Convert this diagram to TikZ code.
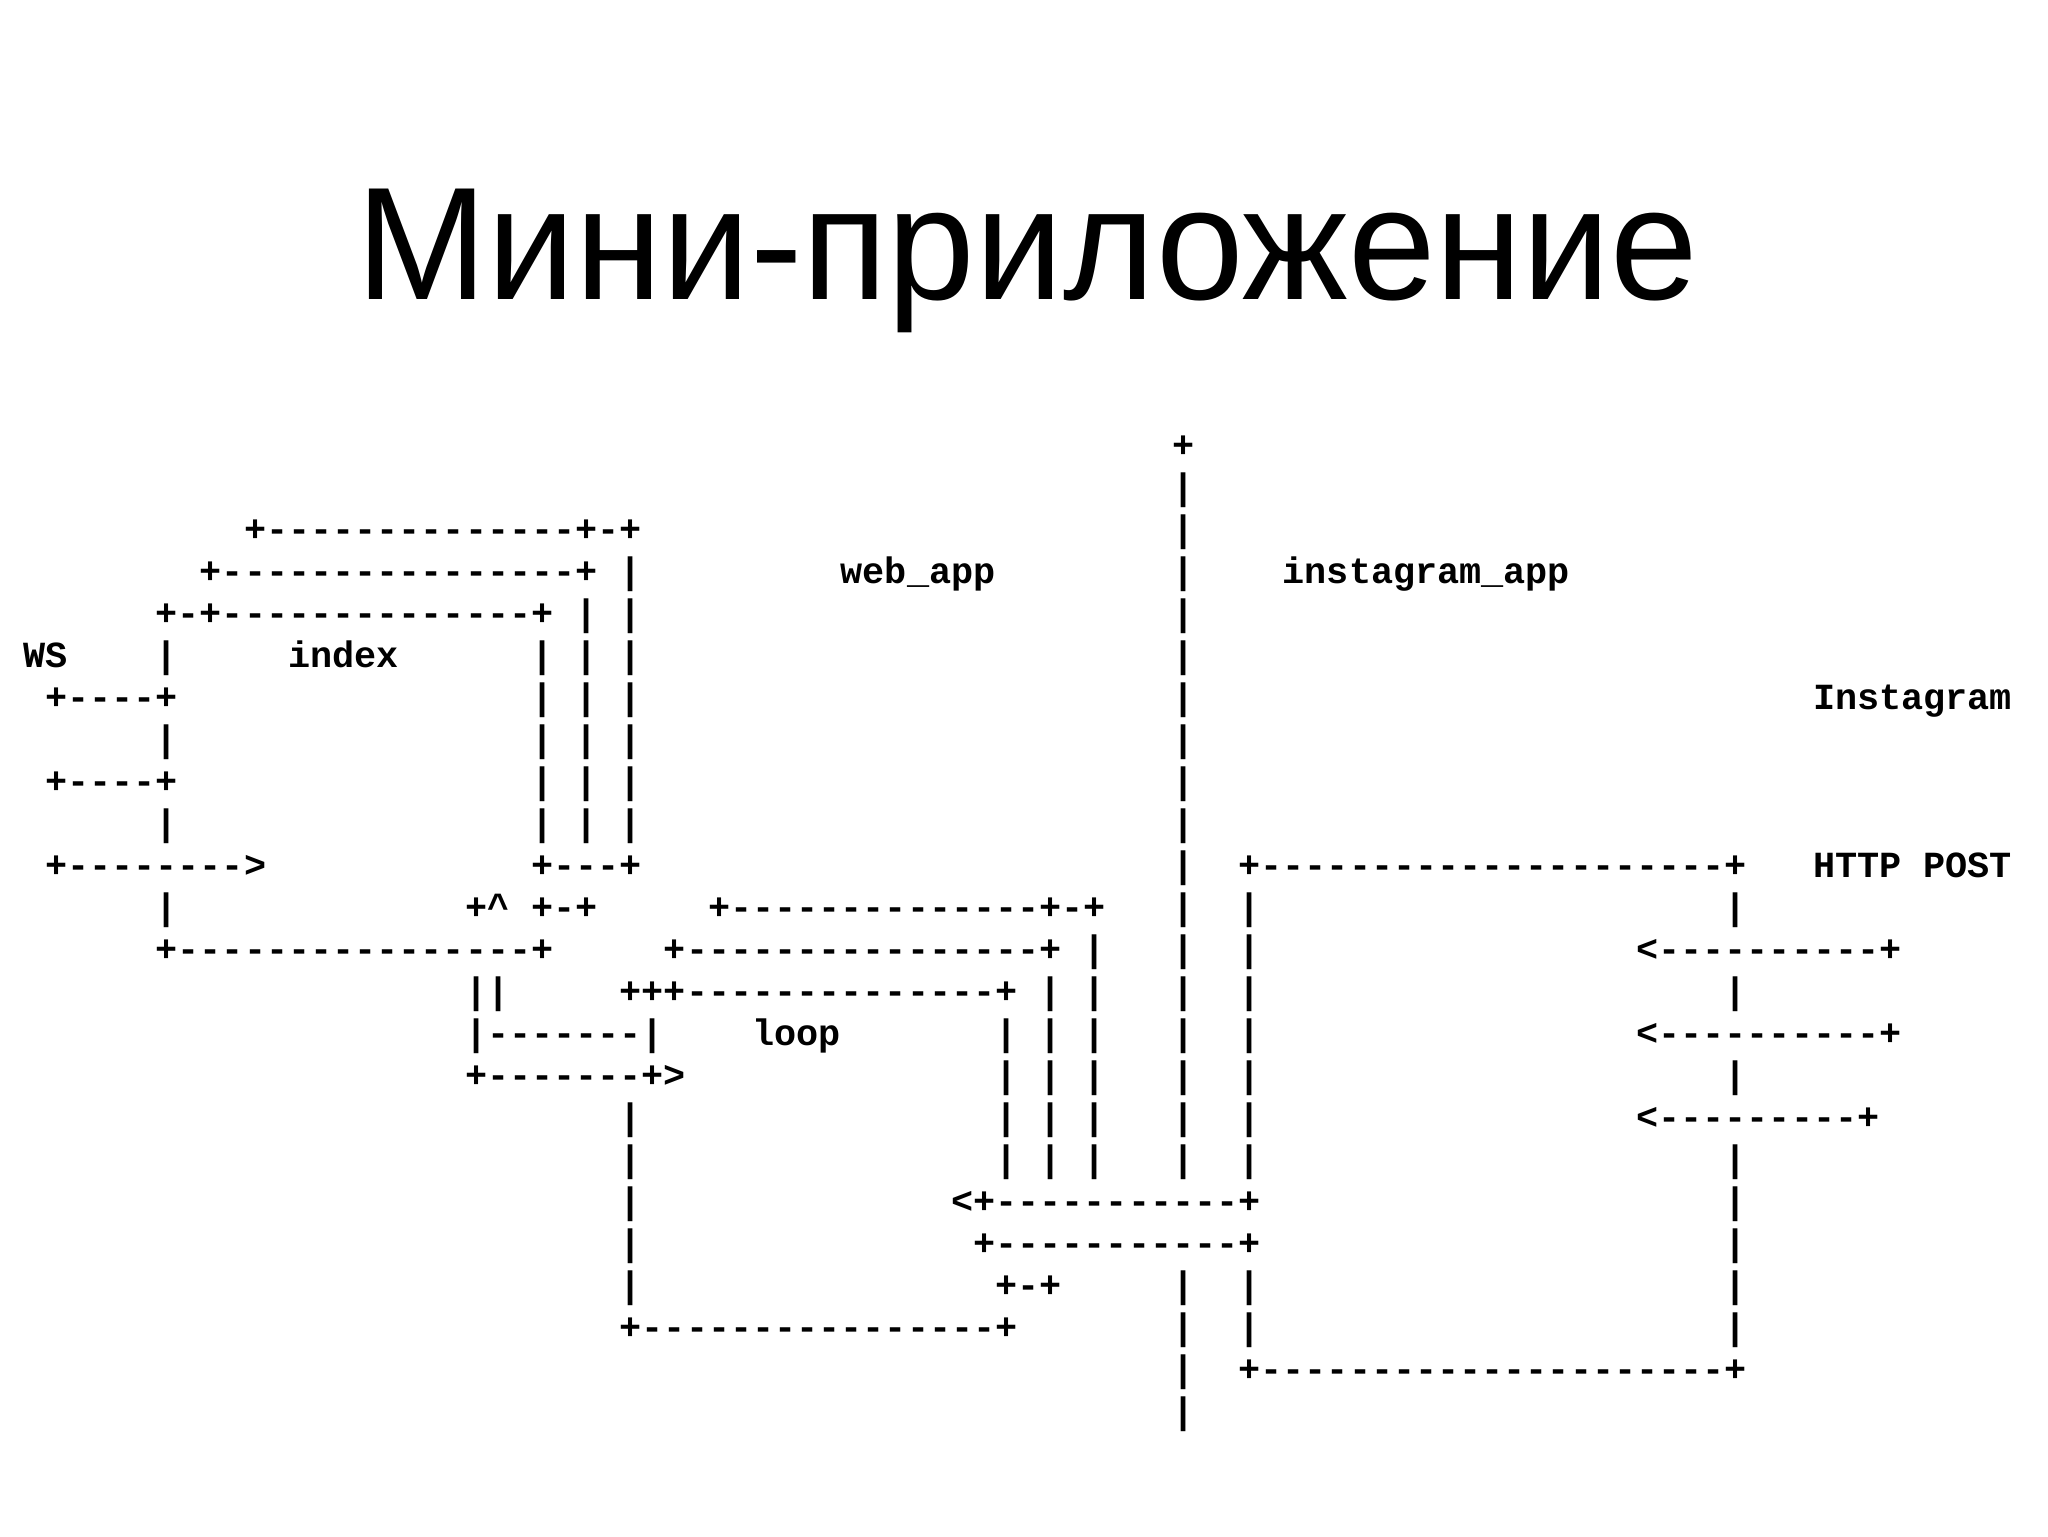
\documentclass[tikz,border=0pt]{standalone}
\usepackage{fontspec}
\setmainfont{Liberation Sans}
\setmonofont{Liberation Mono}
\newcounter{artk}
\newcommand\artchunk[3]{\stepcounter{artk}\node[art] (k\theartk) at ({23+22.1*(#2)},{457.5+42.0*(#1)}) {#3};}
\begin{document}
\begin{tikzpicture}[x=0.5pt,y=-0.5pt,
  art/.style={anchor=base west,inner sep=0pt,outer sep=0pt,
    font=\ttfamily\bfseries\fontsize{18.42pt}{20pt}\selectfont},
  titlestyle/.style={anchor=base,inner sep=0pt,font=\fontsize{80.3pt}{86pt}\selectfont}]
\useasboundingbox[fill=white] (0,0) rectangle (2048,1536);
\node[titlestyle] (title) at (1027,299) {\scalebox{0.98}[1]{Мини-приложение}};
% row 0-1
\artchunk{0}{52}{+}
\artchunk{1}{52}{|}
% row 2
\artchunk{2}{10}{+--------------+-+}
\artchunk{2}{52}{|}
% row 3
\artchunk{3}{8}{+----------------+~|}
\artchunk{3}{37}{web\_app}
\artchunk{3}{52}{|}
\artchunk{3}{57}{instagram\_app}
% row 4
\artchunk{4}{6}{+-+--------------+~|~|}
\artchunk{4}{52}{|}
% row 5
\artchunk{5}{0}{WS}
\artchunk{5}{6}{|}
\artchunk{5}{12}{index}
\artchunk{5}{23}{|~|~|}
\artchunk{5}{52}{|}
% row 6
\artchunk{6}{1}{+----+}
\artchunk{6}{23}{|~|~|}
\artchunk{6}{52}{|}
\artchunk{6}{81}{Instagram}
% row 7
\artchunk{7}{6}{|}
\artchunk{7}{23}{|~|~|}
\artchunk{7}{52}{|}
% row 8
\artchunk{8}{1}{+----+}
\artchunk{8}{23}{|~|~|}
\artchunk{8}{52}{|}
% row 9
\artchunk{9}{6}{|}
\artchunk{9}{23}{|~|~|}
\artchunk{9}{52}{|}
% row 10
\artchunk{10}{1}{+-------->}
\artchunk{10}{23}{+---+}
\artchunk{10}{52}{|}
\artchunk{10}{55}{+---------------------+}
\artchunk{10}{81}{HTTP~POST}
% row 11
\artchunk{11}{6}{|}
\artchunk{11}{20}{+\textasciicircum~+-+}
\artchunk{11}{31}{+--------------+-+}
\artchunk{11}{52}{|~~|}
\artchunk{11}{77}{|}
% row 12
\artchunk{12}{6}{+----------------+}
\artchunk{12}{29}{+----------------+~|}
\artchunk{12}{52}{|~~|}
\artchunk{12}{73}{<----------+}
% row 13
\artchunk{13}{20}{||}
\artchunk{13}{27}{+++--------------+~|~|}
\artchunk{13}{52}{|~~|}
\artchunk{13}{77}{|}
% row 14
\artchunk{14}{20}{|-------|}
\artchunk{14}{33}{loop}
\artchunk{14}{44}{|~|~|}
\artchunk{14}{52}{|~~|}
\artchunk{14}{73}{<----------+}
% row 15
\artchunk{15}{20}{+-------+>}
\artchunk{15}{44}{|~|~|}
\artchunk{15}{52}{|~~|}
\artchunk{15}{77}{|}
% row 16
\artchunk{16}{27}{|}
\artchunk{16}{44}{|~|~|}
\artchunk{16}{52}{|~~|}
\artchunk{16}{73}{<---------+}
% row 17
\artchunk{17}{27}{|}
\artchunk{17}{44}{|~|~|}
\artchunk{17}{52}{|~~|}
\artchunk{17}{77}{|}
% row 18
\artchunk{18}{27}{|}
\artchunk{18}{42}{<+-----------+}
\artchunk{18}{77}{|}
% row 19
\artchunk{19}{27}{|}
\artchunk{19}{43}{+-----------+}
\artchunk{19}{77}{|}
% row 20
\artchunk{20}{27}{|}
\artchunk{20}{44}{+-+}
\artchunk{20}{52}{|~~|}
\artchunk{20}{77}{|}
% row 21
\artchunk{21}{27}{+----------------+}
\artchunk{21}{52}{|~~|}
\artchunk{21}{77}{|}
% row 22
\artchunk{22}{52}{|~~+---------------------+}
% row 23
\artchunk{23}{52}{|}
\end{tikzpicture}
\end{document}
